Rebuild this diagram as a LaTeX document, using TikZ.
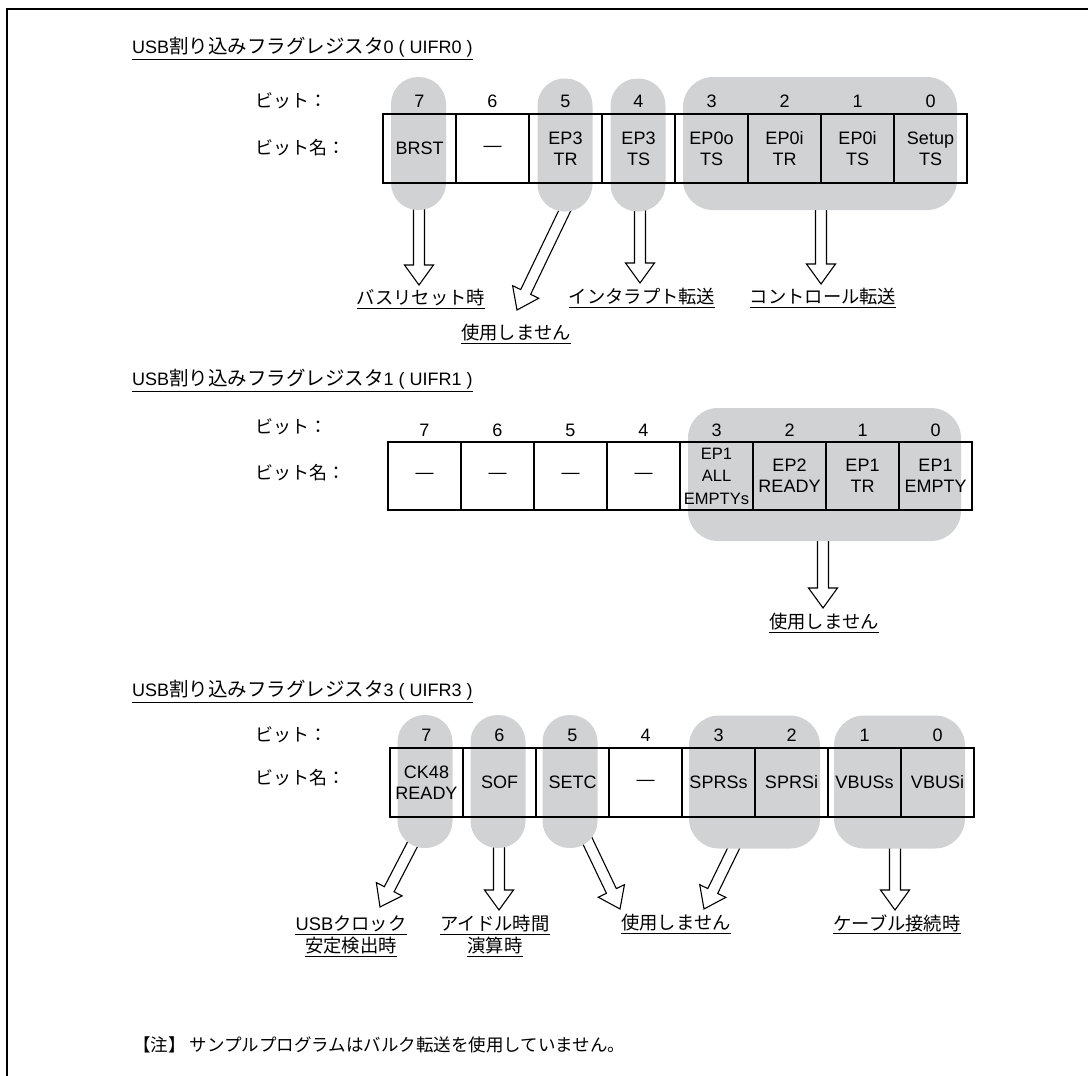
\documentclass[tikz,border=0pt]{standalone}
\usepackage{fontspec}
\setmainfont{Liberation Sans}
\newfontfamily\jp{Noto Sans CJK JP}
\newfontfamily\latin{Liberation Sans}
\usetikzlibrary{calc}
\pgfdeclarelayer{arrows}
\pgfsetlayers{arrows,main}
\definecolor{pillgray}{RGB}{209,210,212}
\newdimen\haXa \newdimen\haYa \newdimen\haXb \newdimen\haYb
\newcommand\hollowarrow[2]{%
 \pgfextractx{\haXa}{\pgfpointanchor{#1}{center}}%
 \pgfextracty{\haYa}{\pgfpointanchor{#1}{center}}%
 \pgfextractx{\haXb}{\pgfpointanchor{#2}{center}}%
 \pgfextracty{\haYb}{\pgfpointanchor{#2}{center}}%
 \pgfmathsetmacro\haAng{atan2(\haYb-\haYa,\haXb-\haXa)}%
 \pgfmathsetmacro\haLen{veclen(\haXb-\haXa,\haYb-\haYa)}%
 \pgfmathsetmacro\haBase{\haLen-20}%
 \begin{pgfonlayer}{arrows}
 \begin{scope}[shift={(#1)}, rotate=\haAng]
 \draw[hollow] (0pt,5.5pt) -- (\haBase pt,5.5pt) -- (\haBase pt,14.5pt) -- (\haLen pt,0pt) -- (\haBase pt,-14.5pt) -- (\haBase pt,-5.5pt) -- (0pt,-5.5pt);
 \end{scope}
 \end{pgfonlayer}}
\tikzset{
 cell/.style={draw, line width=2pt, minimum width=73pt, minimum height=69pt, inner sep=0pt, font=\fontsize{18}{21}\selectfont, align=center},
 pill/.style={fill=pillgray, draw=none, inner sep=0pt, rounded corners=27pt, minimum width=55pt, minimum height=133pt},
 grp/.style={fill=pillgray, draw=none, inner sep=0pt, rounded corners=30pt, minimum height=133pt},
 bitnum/.style={font=\fontsize{18}{21}\selectfont, inner sep=0pt},
 rowlabel/.style={font=\fontsize{18}{21}\jp, inner sep=0pt, anchor=west},
 title/.style={font=\fontsize{18}{22}\selectfont, inner sep=0pt, anchor=west},
 jplabel/.style={font=\fontsize{18.3}{22}\jp, inner sep=0pt},
 uline/.style={line width=1.2pt},
 hollow/.style={draw=black, fill=white, line width=1.1pt, line join=miter},
}
\newcommand\ul[1]{\draw[uline] ([yshift=-2pt]#1.south west) -- ([yshift=-2pt]#1.south east);}
\newcommand\tjp[1]{{\fontsize{19.5}{22}\jp #1}}
\begin{document}
\begin{tikzpicture}[x=1pt,y=-1pt]
\useasboundingbox (0,0) rectangle (1088,1076);
\draw[line width=2.5pt] (7,1076) -- (7,9) -- (1088,9);

% ---------------- Register 0 ----------------
\node[title] (T0) at (132,47) {USB\tjp{割り込みフラグレジスタ}0 ( UIFR0 )};
\ul{T0}
\node[rowlabel] (B0) at (255,101) {ビット：};
\node[rowlabel] (N0) at (255,148) {ビット名：};

\node[pill] (P07) at (418.5,143.5) {};
\node[pill] (P05) at (565,145) {};
\node[pill] (P04) at (638,145) {};
\node[grp, minimum width=274pt] (P0g) at (820,143.5) {};

\node[cell] (C07) at (419.5,148.5) {BRST};
\node[cell] (C06) at (492.5,148.5) {—};
\node[cell] (C05) at (565.5,148.5) {EP3\\TR};
\node[cell] (C04) at (638.5,148.5) {EP3\\TS};
\node[cell] (C03) at (711.5,148.5) {EP0o\\TS};
\node[cell] (C02) at (784.5,148.5) {EP0i\\TR};
\node[cell] (C01) at (857.5,148.5) {EP0i\\TS};
\node[cell] (C00) at (930.5,148.5) {Setup\\TS};

\foreach \b/\x in {7/419.5,6/492.5,5/565.5,4/638.5,3/711.5,2/784.5,1/857.5,0/930.5}
  \node[bitnum] (n0\b) at (\x,101) {\b};

\node[jplabel] (L07) at (421,297.5) {バスリセット時}; \ul{L07}
\node[jplabel] (L05) at (516,333) {使用しません}; \ul{L05}
\node[jplabel] (L04) at (642,297) {インタラプト転送}; \ul{L04}
\node[jplabel] (L0g) at (823,297) {コントロール転送}; \ul{L0g}

\coordinate (S07) at (419,190); \coordinate (E07) at (419,285);
\coordinate (S05) at (579,181); \coordinate (E05) at (517,310);
\coordinate (S04) at (640,190); \coordinate (E04) at (640,283);
\coordinate (S0g) at (821,190); \coordinate (E0g) at (821,284);
\hollowarrow{S07}{E07}
\hollowarrow{S05}{E05}
\hollowarrow{S04}{E04}
\hollowarrow{S0g}{E0g}

% ---------------- Register 1 ----------------
\node[title] (T1) at (132,379) {USB\tjp{割り込みフラグレジスタ}1 ( UIFR1 )};
\ul{T1}
\node[rowlabel] (B1) at (255,427) {ビット：};
\node[rowlabel] (N1) at (255,473) {ビット名：};

\node[grp, minimum width=273pt] (P1g) at (824.5,474.5) {};

\node[cell, minimum height=68pt] (C17) at (424.5,476) {—};
\node[cell, minimum height=68pt] (C16) at (497.5,476) {—};
\node[cell, minimum height=68pt] (C15) at (570.5,476) {—};
\node[cell, minimum height=68pt] (C14) at (643.5,476) {—};
\node[cell, minimum height=68pt, font=\fontsize{16.5}{22.5}\selectfont] (C13) at (716.5,476) {EP1\\ALL\\EMPTYs};
\node[cell, minimum height=68pt] (C12) at (789.5,476) {EP2\\READY};
\node[cell, minimum height=68pt] (C11) at (862.5,476) {EP1\\TR};
\node[cell, minimum height=68pt] (C10) at (935.5,476) {EP1\\EMPTY};

\foreach \b/\x in {7/424.5,6/497.5,5/570.5,4/643.5,3/716.5,2/789.5,1/862.5,0/935.5}
  \node[bitnum] (n1\b) at (\x,430) {\b};

\node[jplabel] (L1g) at (824,622) {使用しません}; \ul{L1g}
\coordinate (S1g) at (823,520); \coordinate (E1g) at (823,608);
\hollowarrow{S1g}{E1g}

% ---------------- Register 3 ----------------
\node[title] (T3) at (132,690) {USB\tjp{割り込みフラグレジスタ}3 ( UIFR3 )};
\ul{T3}
\node[rowlabel] (B3) at (255,735) {ビット：};
\node[rowlabel] (N3) at (255,778) {ビット名：};

\node[pill] (P37) at (425,781.5) {};
\node[pill] (P36) at (498,781.5) {};
\node[pill] (P35) at (570,781.5) {};
\node[grp, minimum width=131pt] (P3a) at (754.5,782) {};
\node[grp, minimum width=131pt] (P3b) at (899.5,782) {};

\node[cell] (C37) at (426.5,782.5) {CK48\\READY};
\node[cell] (C36) at (499.5,782.5) {SOF};
\node[cell] (C35) at (572.5,782.5) {SETC};
\node[cell] (C34) at (645.5,782.5) {—};
\node[cell] (C33) at (718.5,782.5) {SPRSs};
\node[cell] (C32) at (791.5,782.5) {SPRSi};
\node[cell] (C31) at (864.5,782.5) {VBUSs};
\node[cell] (C30) at (937.5,782.5) {VBUSi};

\foreach \b/\x in {7/426.5,6/499.5,5/572.5,4/645.5,3/718.5,2/791.5,1/864.5,0/937.5}
  \node[bitnum] (n3\b) at (\x,735) {\b};

\node[jplabel] (L37a) at (351,924) {{\latin USB}クロック}; \ul{L37a}
\node[jplabel] (L37b) at (351,945.5) {安定検出時}; \ul{L37b}
\node[jplabel] (L36a) at (495,924) {アイドル時間}; \ul{L36a}
\node[jplabel] (L36b) at (495,945.5) {演算時}; \ul{L36b}
\node[jplabel] (L35) at (676,923) {使用しません}; \ul{L35}
\node[jplabel] (L3b) at (897,923) {ケーブル接続時}; \ul{L3b}

\coordinate (S37) at (423,824); \coordinate (E37) at (380,907);
\coordinate (S36) at (499,830); \coordinate (E36) at (499,910);
\coordinate (S35) at (577,819); \coordinate (E35) at (620,909);
\coordinate (S3a) at (742,831); \coordinate (E3a) at (704,909);
\coordinate (S3b) at (895,830); \coordinate (E3b) at (895,910);
\hollowarrow{S37}{E37}
\hollowarrow{S36}{E36}
\hollowarrow{S35}{E35}
\hollowarrow{S3a}{E3a}
\hollowarrow{S3b}{E3b}

% ---------------- Note ----------------
\node[font=\fontsize{17.5}{21}\jp, inner sep=0pt, anchor=west] (NOTE) at (133,1045) {【注】 サンプルプログラムはバルク転送を使用していません。};
\end{tikzpicture}
\end{document}
